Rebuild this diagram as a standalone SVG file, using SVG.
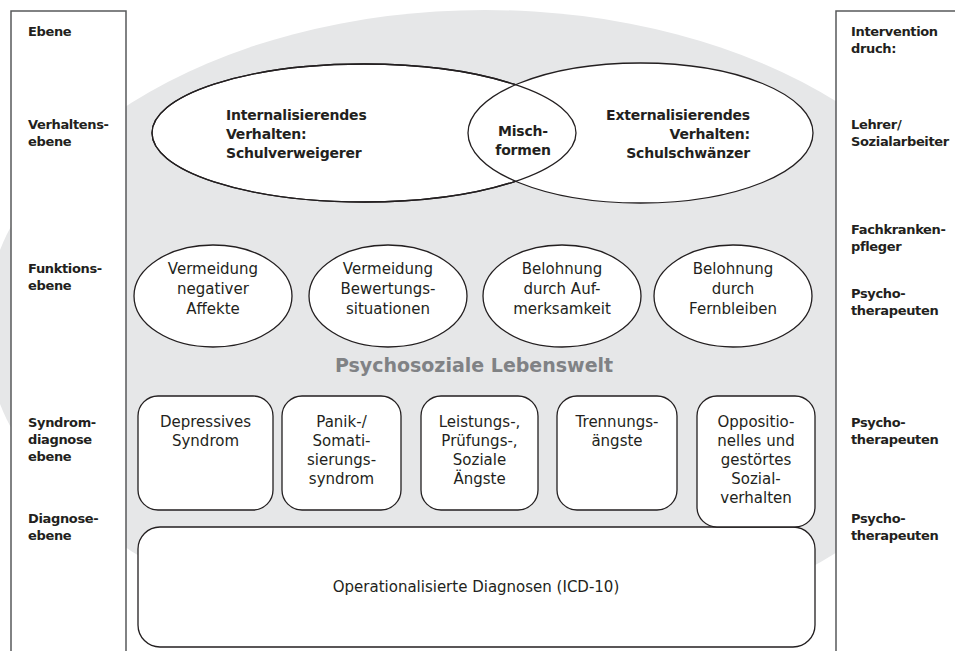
<svg xmlns="http://www.w3.org/2000/svg" width="955" height="651" viewBox="0 0 955 651">
  <style>
    .col { fill: #ffffff; stroke: none; }
    .colline { fill: none; stroke: #58595b; stroke-width: 1.5; }
    .shape { fill: #ffffff; stroke: #231f20; stroke-width: 1.3; }
    .lbl { font-family: "DejaVu Sans", "Open Sans", sans-serif; font-size: 13px; font-weight: 700; letter-spacing: -0.35px; fill: #231f20; }
    .bold { font-family: "DejaVu Sans", "Open Sans", sans-serif; font-size: 14px; font-weight: 700; letter-spacing: -0.2px; fill: #231f20; }
    .txt { font-family: "DejaVu Sans", "Open Sans", sans-serif; font-size: 15px; fill: #231f20; text-anchor: middle; }
    .title { font-family: "DejaVu Sans", "Open Sans", sans-serif; font-size: 19px; font-weight: 700; fill: #808285; text-anchor: middle; }
  </style>

  <!-- background: psychosocial life-world -->
  <ellipse id="lebenswelt" cx="485" cy="327" rx="500" ry="317" fill="#e6e7e8"/>

  <!-- left column: levels -->
  <g id="ebenen">
    <rect class="col" x="11" y="11" width="115" height="650"/>
    <path class="colline" d="M11,660 V11 H126 V660"/>
    <text class="lbl" x="28" y="36">Ebene</text>
    <text class="lbl" x="28" y="129">Verhaltens-</text>
    <text class="lbl" x="28" y="146">ebene</text>
    <text class="lbl" x="28" y="273">Funktions-</text>
    <text class="lbl" x="28" y="290">ebene</text>
    <text class="lbl" x="28" y="427">Syndrom-</text>
    <text class="lbl" x="28" y="444">diagnose</text>
    <text class="lbl" x="28" y="461">ebene</text>
    <text class="lbl" x="28" y="523">Diagnose-</text>
    <text class="lbl" x="28" y="540">ebene</text>
  </g>

  <!-- right column: intervention -->
  <g id="intervention">
    <rect class="col" x="836" y="11" width="130" height="650"/>
    <path class="colline" d="M836,660 V11 H960"/>
    <text class="lbl" x="851" y="36">Intervention</text>
    <text class="lbl" x="851" y="53">druch:</text>
    <text class="lbl" x="851" y="129">Lehrer/</text>
    <text class="lbl" x="851" y="146">Sozialarbeiter</text>
    <text class="lbl" x="851" y="234">Fachkranken-</text>
    <text class="lbl" x="851" y="251">pfleger</text>
    <text class="lbl" x="851" y="298">Psycho-</text>
    <text class="lbl" x="851" y="315">therapeuten</text>
    <text class="lbl" x="851" y="427">Psycho-</text>
    <text class="lbl" x="851" y="444">therapeuten</text>
    <text class="lbl" x="851" y="523">Psycho-</text>
    <text class="lbl" x="851" y="540">therapeuten</text>
  </g>

  <!-- behaviour level: two overlapping ellipses -->
  <g id="internalisierend">
    <ellipse class="shape" cx="364" cy="133" rx="212" ry="69"/>
  </g>
  <g id="externalisierend">
    <ellipse class="shape" cx="640.5" cy="133" rx="172.5" ry="70"/>
    <!-- left outline redrawn over the overlap so both borders of the lens show -->
    <ellipse cx="364" cy="133" rx="212" ry="69" fill="none" stroke="#231f20" stroke-width="1.3"/>
  </g>
  <g id="internalisierend-text">
    <text class="bold" x="226" y="120">Internalisierendes</text>
    <text class="bold" x="226" y="139">Verhalten:</text>
    <text class="bold" x="226" y="158">Schulverweigerer</text>
  </g>
  <g id="mischformen">
    <text class="bold" x="523" y="136" text-anchor="middle">Misch-</text>
    <text class="bold" x="523" y="155" text-anchor="middle">formen</text>
  </g>
  <g id="externalisierend-text" text-anchor="end">
    <text class="bold" x="750" y="120">Externalisierendes</text>
    <text class="bold" x="750" y="139">Verhalten:</text>
    <text class="bold" x="750" y="158">Schulschwänzer</text>
  </g>

  <!-- function level -->
  <g id="f1">
    <ellipse class="shape" cx="213" cy="296" rx="79" ry="51"/>
    <text class="txt" x="213" y="274">Vermeidung</text>
    <text class="txt" x="213" y="294">negativer</text>
    <text class="txt" x="213" y="314">Affekte</text>
  </g>
  <g id="f2">
    <ellipse class="shape" cx="388" cy="296" rx="79" ry="51"/>
    <text class="txt" x="388" y="274">Vermeidung</text>
    <text class="txt" x="388" y="294">Bewertungs-</text>
    <text class="txt" x="388" y="314">situationen</text>
  </g>
  <g id="f3">
    <ellipse class="shape" cx="562" cy="296" rx="79" ry="51"/>
    <text class="txt" x="562" y="274">Belohnung</text>
    <text class="txt" x="562" y="294">durch Auf-</text>
    <text class="txt" x="562" y="314">merksamkeit</text>
  </g>
  <g id="f4">
    <ellipse class="shape" cx="733" cy="296" rx="79" ry="51"/>
    <text class="txt" x="733" y="274">Belohnung</text>
    <text class="txt" x="733" y="294">durch</text>
    <text class="txt" x="733" y="314">Fernbleiben</text>
  </g>

  <text class="title" x="474" y="372">Psychosoziale Lebenswelt</text>

  <!-- diagnosis level -->
  <g id="diagnosen">
    <rect class="shape" x="138" y="527" width="677" height="120" rx="22"/>
    <text class="txt" x="476" y="592">Operationalisierte Diagnosen (ICD-10)</text>
  </g>

  <!-- syndrome level -->
  <g id="s1">
    <rect class="shape" x="138" y="396" width="135" height="114" rx="20"/>
    <text class="txt" x="205.5" y="427">Depressives</text>
    <text class="txt" x="205.5" y="446">Syndrom</text>
  </g>
  <g id="s2">
    <rect class="shape" x="282" y="396" width="119" height="114" rx="20"/>
    <text class="txt" x="341.5" y="427">Panik-/</text>
    <text class="txt" x="341.5" y="446">Somati-</text>
    <text class="txt" x="341.5" y="465">sierungs-</text>
    <text class="txt" x="341.5" y="484">syndrom</text>
  </g>
  <g id="s3">
    <rect class="shape" x="421" y="396" width="117" height="114" rx="20"/>
    <text class="txt" x="479.5" y="427">Leistungs-,</text>
    <text class="txt" x="479.5" y="446">Prüfungs-,</text>
    <text class="txt" x="479.5" y="465">Soziale</text>
    <text class="txt" x="479.5" y="484">Ängste</text>
  </g>
  <g id="s4">
    <rect class="shape" x="557" y="396" width="120" height="114" rx="20"/>
    <text class="txt" x="617" y="427">Trennungs-</text>
    <text class="txt" x="617" y="446">ängste</text>
  </g>
  <g id="s5">
    <rect class="shape" x="697" y="396" width="118" height="131" rx="20"/>
    <text class="txt" x="756" y="427">Oppositio-</text>
    <text class="txt" x="756" y="446">nelles und</text>
    <text class="txt" x="756" y="465">gestörtes</text>
    <text class="txt" x="756" y="484">Sozial-</text>
    <text class="txt" x="756" y="503">verhalten</text>
  </g>
</svg>
